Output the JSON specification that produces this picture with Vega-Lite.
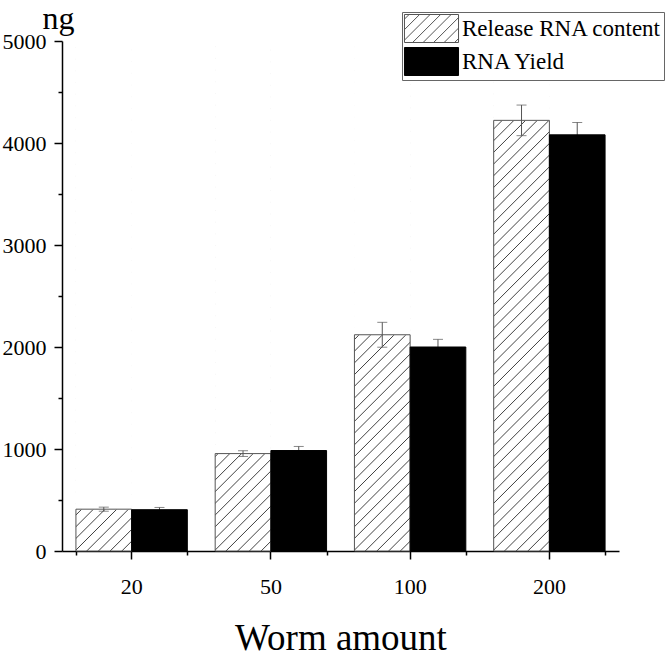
{
  "$schema": "https://vega.github.io/schema/vega-lite/v6.json",
  "autosize": "none",
  "width": 557,
  "height": 510,
  "padding": {"left": 62, "top": 41, "right": 51, "bottom": 108},
  "background": "white",
  "config": {"view": {"stroke": null}, "font": "Liberation Serif"},
  "data": {"values": [
    {"worm": "20", "series": "Release RNA content", "value": 410, "err": 20},
    {"worm": "20", "series": "RNA Yield", "value": 405, "err": 22},
    {"worm": "50", "series": "Release RNA content", "value": 955, "err": 28},
    {"worm": "50", "series": "RNA Yield", "value": 985, "err": 40},
    {"worm": "100", "series": "Release RNA content", "value": 2120, "err": 122},
    {"worm": "100", "series": "RNA Yield", "value": 2000, "err": 75},
    {"worm": "200", "series": "Release RNA content", "value": 4222, "err": 150},
    {"worm": "200", "series": "RNA Yield", "value": 4080, "err": 122}
  ]},
  "resolve": {"scale": {"x": "shared", "y": "shared"}, "axis": {"x": "independent", "y": "independent"}},
  "layer": [
    {
      "transform": [{"filter": "datum.series === 'Release RNA content'"}],
      "mark": {"type": "bar", "fill": {"gradient": "linear", "x1": 0, "y1": 0, "x2": 0.11972, "y2": 1.09614, "stops": [
        {"offset": 0.0088, "color": "#fff"}, {"offset": 0.0106, "color": "#444"}, {"offset": 0.0124, "color": "#fff"},
        {"offset": 0.0295, "color": "#fff"}, {"offset": 0.0313, "color": "#444"}, {"offset": 0.0331, "color": "#fff"},
        {"offset": 0.0502, "color": "#fff"}, {"offset": 0.0520, "color": "#444"}, {"offset": 0.0538, "color": "#fff"},
        {"offset": 0.0709, "color": "#fff"}, {"offset": 0.0727, "color": "#444"}, {"offset": 0.0745, "color": "#fff"},
        {"offset": 0.0915, "color": "#fff"}, {"offset": 0.0933, "color": "#444"}, {"offset": 0.0951, "color": "#fff"},
        {"offset": 0.1122, "color": "#fff"}, {"offset": 0.1140, "color": "#444"}, {"offset": 0.1158, "color": "#fff"},
        {"offset": 0.1329, "color": "#fff"}, {"offset": 0.1347, "color": "#444"}, {"offset": 0.1365, "color": "#fff"},
        {"offset": 0.1536, "color": "#fff"}, {"offset": 0.1554, "color": "#444"}, {"offset": 0.1572, "color": "#fff"},
        {"offset": 0.1743, "color": "#fff"}, {"offset": 0.1761, "color": "#444"}, {"offset": 0.1779, "color": "#fff"},
        {"offset": 0.1949, "color": "#fff"}, {"offset": 0.1967, "color": "#444"}, {"offset": 0.1985, "color": "#fff"},
        {"offset": 0.2156, "color": "#fff"}, {"offset": 0.2174, "color": "#444"}, {"offset": 0.2192, "color": "#fff"},
        {"offset": 0.2363, "color": "#fff"}, {"offset": 0.2381, "color": "#444"}, {"offset": 0.2399, "color": "#fff"},
        {"offset": 0.2570, "color": "#fff"}, {"offset": 0.2588, "color": "#444"}, {"offset": 0.2606, "color": "#fff"},
        {"offset": 0.2777, "color": "#fff"}, {"offset": 0.2795, "color": "#444"}, {"offset": 0.2813, "color": "#fff"},
        {"offset": 0.2984, "color": "#fff"}, {"offset": 0.3002, "color": "#444"}, {"offset": 0.3020, "color": "#fff"},
        {"offset": 0.3190, "color": "#fff"}, {"offset": 0.3208, "color": "#444"}, {"offset": 0.3226, "color": "#fff"},
        {"offset": 0.3397, "color": "#fff"}, {"offset": 0.3415, "color": "#444"}, {"offset": 0.3433, "color": "#fff"},
        {"offset": 0.3604, "color": "#fff"}, {"offset": 0.3622, "color": "#444"}, {"offset": 0.3640, "color": "#fff"},
        {"offset": 0.3811, "color": "#fff"}, {"offset": 0.3829, "color": "#444"}, {"offset": 0.3847, "color": "#fff"},
        {"offset": 0.4018, "color": "#fff"}, {"offset": 0.4036, "color": "#444"}, {"offset": 0.4054, "color": "#fff"},
        {"offset": 0.4225, "color": "#fff"}, {"offset": 0.4243, "color": "#444"}, {"offset": 0.4261, "color": "#fff"},
        {"offset": 0.4431, "color": "#fff"}, {"offset": 0.4449, "color": "#444"}, {"offset": 0.4467, "color": "#fff"},
        {"offset": 0.4638, "color": "#fff"}, {"offset": 0.4656, "color": "#444"}, {"offset": 0.4674, "color": "#fff"},
        {"offset": 0.4845, "color": "#fff"}, {"offset": 0.4863, "color": "#444"}, {"offset": 0.4881, "color": "#fff"},
        {"offset": 0.5052, "color": "#fff"}, {"offset": 0.5070, "color": "#444"}, {"offset": 0.5088, "color": "#fff"},
        {"offset": 0.5259, "color": "#fff"}, {"offset": 0.5277, "color": "#444"}, {"offset": 0.5295, "color": "#fff"},
        {"offset": 0.5465, "color": "#fff"}, {"offset": 0.5483, "color": "#444"}, {"offset": 0.5501, "color": "#fff"},
        {"offset": 0.5672, "color": "#fff"}, {"offset": 0.5690, "color": "#444"}, {"offset": 0.5708, "color": "#fff"},
        {"offset": 0.5879, "color": "#fff"}, {"offset": 0.5897, "color": "#444"}, {"offset": 0.5915, "color": "#fff"},
        {"offset": 0.6086, "color": "#fff"}, {"offset": 0.6104, "color": "#444"}, {"offset": 0.6122, "color": "#fff"},
        {"offset": 0.6293, "color": "#fff"}, {"offset": 0.6311, "color": "#444"}, {"offset": 0.6329, "color": "#fff"},
        {"offset": 0.6500, "color": "#fff"}, {"offset": 0.6518, "color": "#444"}, {"offset": 0.6536, "color": "#fff"},
        {"offset": 0.6706, "color": "#fff"}, {"offset": 0.6724, "color": "#444"}, {"offset": 0.6742, "color": "#fff"},
        {"offset": 0.6913, "color": "#fff"}, {"offset": 0.6931, "color": "#444"}, {"offset": 0.6949, "color": "#fff"},
        {"offset": 0.7120, "color": "#fff"}, {"offset": 0.7138, "color": "#444"}, {"offset": 0.7156, "color": "#fff"},
        {"offset": 0.7327, "color": "#fff"}, {"offset": 0.7345, "color": "#444"}, {"offset": 0.7363, "color": "#fff"},
        {"offset": 0.7534, "color": "#fff"}, {"offset": 0.7552, "color": "#444"}, {"offset": 0.7570, "color": "#fff"},
        {"offset": 0.7741, "color": "#fff"}, {"offset": 0.7759, "color": "#444"}, {"offset": 0.7777, "color": "#fff"},
        {"offset": 0.7947, "color": "#fff"}, {"offset": 0.7965, "color": "#444"}, {"offset": 0.7983, "color": "#fff"},
        {"offset": 0.8154, "color": "#fff"}, {"offset": 0.8172, "color": "#444"}, {"offset": 0.8190, "color": "#fff"},
        {"offset": 0.8361, "color": "#fff"}, {"offset": 0.8379, "color": "#444"}, {"offset": 0.8397, "color": "#fff"},
        {"offset": 0.8568, "color": "#fff"}, {"offset": 0.8586, "color": "#444"}, {"offset": 0.8604, "color": "#fff"},
        {"offset": 0.8775, "color": "#fff"}, {"offset": 0.8793, "color": "#444"}, {"offset": 0.8811, "color": "#fff"},
        {"offset": 0.8981, "color": "#fff"}, {"offset": 0.8999, "color": "#444"}, {"offset": 0.9017, "color": "#fff"},
        {"offset": 0.9188, "color": "#fff"}, {"offset": 0.9206, "color": "#444"}, {"offset": 0.9224, "color": "#fff"},
        {"offset": 0.9395, "color": "#fff"}, {"offset": 0.9413, "color": "#444"}, {"offset": 0.9431, "color": "#fff"},
        {"offset": 0.9602, "color": "#fff"}, {"offset": 0.9620, "color": "#444"}, {"offset": 0.9638, "color": "#fff"},
        {"offset": 0.9809, "color": "#fff"}, {"offset": 0.9827, "color": "#444"}, {"offset": 0.9845, "color": "#fff"}
      ]}},
      "encoding": {
        "x": {"field": "worm", "type": "nominal", "sort": ["20", "50", "100", "200"],
          "scale": {"domain": ["20", "50", "100", "200"], "paddingInner": 0.2, "paddingOuter": 0.1},
          "axis": {"orient": "bottom", "title": "Worm amount", "tickBand": "center", "tickSize": 8, "tickColor": "black", "tickWidth": 1.5,
            "domainColor": "black", "domainWidth": 1.5, "labelAngle": 0, "labelFont": "Liberation Serif", "labelFontSize": 22,
            "labelColor": "black", "labelBaseline": "alphabetic", "labelPadding": 34,
            "titleFont": "Liberation Serif", "titleFontSize": 37, "titleFontWeight": "normal", "titleColor": "black",
            "titleX": 278.5, "titleY": 98, "titleBaseline": "alphabetic", "titleAlign": "center"}},
        "xOffset": {"field": "series", "type": "nominal", "scale": {"domain": ["Release RNA content", "RNA Yield"]}},
        "y": {"datum": 5000, "type": "quantitative", "scale": {"domain": [0, 5000], "nice": false, "zero": true}, "axis": null},
        "y2": {"datum": 0}
      }
    },
    {
      "transform": [{"filter": "datum.series === 'Release RNA content'"}],
      "mark": {"type": "bar", "fill": "white", "stroke": "white", "strokeWidth": 1},
      "encoding": {
        "x": {"field": "worm", "type": "nominal", "sort": ["20", "50", "100", "200"],
          "axis": {"orient": "bottom", "tickBand": "extent", "tickSize": 4, "labels": false, "title": null, "domain": false, "tickColor": "black", "tickWidth": 1.5}},
        "xOffset": {"field": "series", "type": "nominal"},
        "y": {"field": "value", "type": "quantitative", "axis": null},
        "y2": {"datum": 5000}
      }
    },
    {
      "transform": [{"filter": "datum.series === 'Release RNA content'"}],
      "mark": {"type": "bar", "fill": "white", "fillOpacity": 0, "stroke": "#555", "strokeWidth": 1},
      "encoding": {
        "x": {"field": "worm", "type": "nominal", "sort": ["20", "50", "100", "200"], "axis": null},
        "xOffset": {"field": "series", "type": "nominal"},
        "y": {"field": "value", "type": "quantitative",
          "axis": {"orient": "left", "values": [500, 1500, 2500, 3500, 4500], "tickSize": 4, "labels": false, "domain": false,
            "title": null, "grid": false, "tickColor": "black", "tickWidth": 1.5}}
      }
    },
    {
      "mark": {"type": "errorbar", "ticks": {"size": 10, "color": "#555", "thickness": 1}, "rule": {"color": "#555", "strokeWidth": 1}},
      "encoding": {
        "x": {"field": "worm", "type": "nominal", "sort": ["20", "50", "100", "200"], "axis": null},
        "xOffset": {"field": "series", "type": "nominal"},
        "y": {"field": "value", "type": "quantitative", "axis": null},
        "yError": {"field": "err"}
      }
    },
    {
      "transform": [{"filter": "datum.series === 'RNA Yield'"}],
      "mark": {"type": "bar", "fill": "black", "stroke": "black", "strokeWidth": 1},
      "encoding": {
        "x": {"field": "worm", "type": "nominal", "sort": ["20", "50", "100", "200"], "axis": null},
        "xOffset": {"field": "series", "type": "nominal"},
        "y": {"field": "value", "type": "quantitative",
          "axis": {"orient": "left", "title": "ng", "values": [0, 1000, 2000, 3000, 4000, 5000], "format": "d",
            "tickSize": 8, "tickColor": "black", "tickWidth": 1.5, "domainColor": "black", "domainWidth": 1.5, "grid": false,
            "labelFont": "Liberation Serif", "labelFontSize": 22, "labelColor": "black", "labelPadding": 8, "labelBaseline": "middle",
            "titleFont": "Liberation Serif", "titleFontSize": 32, "titleFontWeight": "normal", "titleColor": "black",
            "titleAngle": 0, "titleX": -4, "titleY": -12.5, "titleAlign": "center", "titleBaseline": "alphabetic"}}
      }
    },
    {
      "transform": [{"filter": "false"}],
      "mark": {"type": "point", "filled": true, "strokeWidth": 1, "opacity": 1, "fillOpacity": 1, "strokeOpacity": 1},
      "encoding": {
        "x": {"field": "worm", "type": "nominal", "sort": ["20", "50", "100", "200"], "axis": null},
        "xOffset": {"field": "series", "type": "nominal"},
        "y": {"field": "value", "type": "quantitative", "axis": null},
        "fill": {"field": "series", "type": "nominal",
          "scale": {"domain": ["Release RNA content", "RNA Yield"], "range": ["white", "black"]},
          "legend": {"title": null, "orient": "none", "legendX": 340, "legendY": -29,
            "strokeColor": "#666", "fillColor": "white", "padding": 2,
            "labelFont": "Liberation Serif", "labelFontSize": 23, "labelColor": "black", "labelLimit": 400,
            "symbolSize": 784, "symbolStrokeWidth": 1, "symbolOffset": 13, "labelOffset": 16, "rowPadding": 0, "symbolOpacity": 1}},
        "stroke": {"field": "series", "type": "nominal",
          "scale": {"domain": ["Release RNA content", "RNA Yield"], "range": ["#555", "black"]}},
        "shape": {"field": "series", "type": "nominal",
          "scale": {"domain": ["Release RNA content", "RNA Yield"], "range": [
            "M-1.93,-1H1.93V1H-1.93ZM-1.93,-0.67L-1.6,-1M-1.93,0.08L-0.85,-1M-1.93,0.83L-0.1,-1M-1.35,1L0.65,-1M-0.6,1L1.4,-1M0.15,1L1.93,-0.78M0.9,1L1.93,-0.03M1.65,1L1.93,0.72",
            "M-1.93,-1H1.93V1H-1.93Z"]}}
      }
    }
  ]
}
